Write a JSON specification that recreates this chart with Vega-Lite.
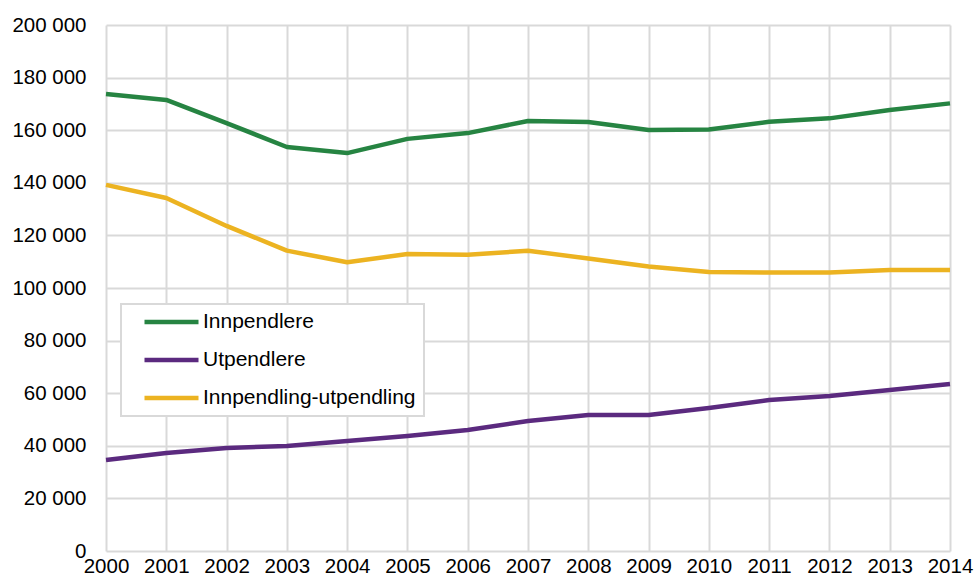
{
  "$schema": "https://vega.github.io/schema/vega-lite/v6.json",
  "width": 844,
  "height": 526,
  "autosize": {"type": "none"},
  "padding": {"left": 106, "top": 25, "right": 26, "bottom": 28},
  "background": "white",
  "config": {
    "font": "Liberation Sans",
    "view": {"stroke": null},
    "legend": {"strokeWidth": 2}
  },
  "data": {
    "values": [
      {"year": 2000, "series": "Innpendlere", "value": 173800},
      {"year": 2001, "series": "Innpendlere", "value": 171500},
      {"year": 2002, "series": "Innpendlere", "value": 162700},
      {"year": 2003, "series": "Innpendlere", "value": 153600},
      {"year": 2004, "series": "Innpendlere", "value": 151300},
      {"year": 2005, "series": "Innpendlere", "value": 156700},
      {"year": 2006, "series": "Innpendlere", "value": 158900},
      {"year": 2007, "series": "Innpendlere", "value": 163500},
      {"year": 2008, "series": "Innpendlere", "value": 163100},
      {"year": 2009, "series": "Innpendlere", "value": 160100},
      {"year": 2010, "series": "Innpendlere", "value": 160300},
      {"year": 2011, "series": "Innpendlere", "value": 163200},
      {"year": 2012, "series": "Innpendlere", "value": 164500},
      {"year": 2013, "series": "Innpendlere", "value": 167700},
      {"year": 2014, "series": "Innpendlere", "value": 170200},
      {"year": 2000, "series": "Utpendlere", "value": 34600},
      {"year": 2001, "series": "Utpendlere", "value": 37300},
      {"year": 2002, "series": "Utpendlere", "value": 39200},
      {"year": 2003, "series": "Utpendlere", "value": 39900},
      {"year": 2004, "series": "Utpendlere", "value": 41800},
      {"year": 2005, "series": "Utpendlere", "value": 43700},
      {"year": 2006, "series": "Utpendlere", "value": 46000},
      {"year": 2007, "series": "Utpendlere", "value": 49400},
      {"year": 2008, "series": "Utpendlere", "value": 51700},
      {"year": 2009, "series": "Utpendlere", "value": 51700},
      {"year": 2010, "series": "Utpendlere", "value": 54400},
      {"year": 2011, "series": "Utpendlere", "value": 57400},
      {"year": 2012, "series": "Utpendlere", "value": 58900},
      {"year": 2013, "series": "Utpendlere", "value": 61200},
      {"year": 2014, "series": "Utpendlere", "value": 63500},
      {"year": 2000, "series": "Innpendling-utpendling", "value": 139200},
      {"year": 2001, "series": "Innpendling-utpendling", "value": 134200},
      {"year": 2002, "series": "Innpendling-utpendling", "value": 123600},
      {"year": 2003, "series": "Innpendling-utpendling", "value": 114200},
      {"year": 2004, "series": "Innpendling-utpendling", "value": 109800},
      {"year": 2005, "series": "Innpendling-utpendling", "value": 112900},
      {"year": 2006, "series": "Innpendling-utpendling", "value": 112600},
      {"year": 2007, "series": "Innpendling-utpendling", "value": 114200},
      {"year": 2008, "series": "Innpendling-utpendling", "value": 111200},
      {"year": 2009, "series": "Innpendling-utpendling", "value": 108200},
      {"year": 2010, "series": "Innpendling-utpendling", "value": 106100},
      {"year": 2011, "series": "Innpendling-utpendling", "value": 105900},
      {"year": 2012, "series": "Innpendling-utpendling", "value": 105900},
      {"year": 2013, "series": "Innpendling-utpendling", "value": 106800},
      {"year": 2014, "series": "Innpendling-utpendling", "value": 106800}
    ]
  },
  "mark": {"type": "line", "strokeWidth": 4.5, "strokeJoin": "round"},
  "encoding": {
    "x": {
      "field": "year",
      "type": "quantitative",
      "scale": {"domain": [2000, 2014], "nice": false, "zero": false},
      "axis": {
        "title": null,
        "values": [2000, 2001, 2002, 2003, 2004, 2005, 2006, 2007, 2008, 2009, 2010, 2011, 2012, 2013, 2014],
        "format": "d",
        "domain": false,
        "ticks": false,
        "labelPadding": 5,
        "labelFontSize": 20.5,
        "labelColor": "#000000",
        "labelFont": "Liberation Sans",
        "labelOverlap": false,
        "labelFlush": false,
        "labelBound": false,
        "gridColor": "#d9d9d9",
        "gridWidth": 2
      }
    },
    "y": {
      "field": "value",
      "type": "quantitative",
      "scale": {"domain": [0, 200000], "nice": false},
      "axis": {
        "title": null,
        "values": [0, 20000, 40000, 60000, 80000, 100000, 120000, 140000, 160000, 180000, 200000],
        "labelExpr": "replace(format(datum.value, ','), ',', ' ')",
        "domain": false,
        "ticks": false,
        "labelPadding": 20,
        "labelFontSize": 20.5,
        "labelColor": "#000000",
        "labelFont": "Liberation Sans",
        "labelOverlap": false,
        "labelFlush": false,
        "labelBound": false,
        "gridColor": "#d9d9d9",
        "gridWidth": 2
      }
    },
    "color": {
      "field": "series",
      "type": "nominal",
      "scale": {
        "domain": ["Innpendlere", "Utpendlere", "Innpendling-utpendling"],
        "range": ["#268442", "#5b2a7f", "#ecb321"]
      },
      "legend": {
        "title": null,
        "orient": "none",
        "legendX": 15,
        "legendY": 279,
        "symbolType": "stroke",
        "symbolSize": 2916,
        "symbolStrokeWidth": 4.5,
        "symbolOffset": 13,
        "clipHeight": 20,
        "rowPadding": 17,
        "labelOffset": 2,
        "labelFontSize": 21,
        "labelFont": "Liberation Sans",
        "labelColor": "#000000",
        "labelLimit": 400,
        "padding": 8,
        "strokeColor": "#d9d9d9",
        "fillColor": "#ffffff"
      }
    }
  }
}
